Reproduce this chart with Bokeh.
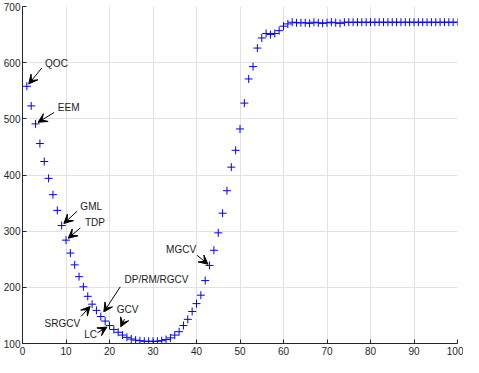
from bokeh.plotting import figure
from bokeh.models import Range1d, Arrow, VeeHead, ColumnDataSource, FixedTicker
from bokeh.core.properties import value
from bokeh.embed import file_html
from bokeh.resources import INLINE
import math

# ---- data ----
x_vals = list(range(1, 101))
y_vals = [558, 523, 491, 456, 424, 394, 365, 337, 310, 284,
          261, 240, 219, 201, 184, 170, 159, 148, 140, 132,
          125, 120, 115, 111, 108, 106, 105, 104, 104, 104,
          104, 105, 107, 110, 115, 121, 132, 143, 157, 171,
          186, 212, 239, 266, 297, 332, 372, 414, 444, 482,
          528, 571, 593, 626, 644, 652, 650, 652, 657, 665,
          669, 672, 671, 671, 671, 670, 672, 671, 670, 671,
          672, 671, 670, 672, 672, 672, 672, 672, 672, 672,
          672, 672, 672, 672, 672, 672, 672, 672, 672, 672,
          672, 672, 672, 672, 672, 672, 672, 672, 672, 672]
x_ticks = [0, 10, 20, 30, 40, 50, 60, 70, 80, 90, 100]
y_ticks = [100, 200, 300, 400, 500, 600, 700]

ann_labels = ["QOC", "EEM", "GML", "TDP", "SRGCV", "LC", "DP/RM/RGCV", "GCV", "MGCV"]
ann_target = [1, 3, 9, 10, 16, 20, 18, 22, 43]

# ---- annotation geometry (positions, not data) ----
ann_start = [(4.44, 590.5), (7.28, 511.4), (12.56, 335.6), (13.30, 305.8),
             (13.46, 148.2), (17.20, 118.9), (22.48, 200.9), (23.45, 143.5),
             (40.14, 257.0)]
ann_gap = [3, 3, 3, 3, 3, 3, 5.5, 6, 2]
ann_text = [(5.19, 599.1), (8.12, 520.7), (13.30, 344.1), (14.36, 315.4),
            (13.24, 134.9), (17.14, 116.7), (23.45, 213.5), (21.65, 160.7),
            (39.91, 266.8)]
ann_align = ["left", "left", "left", "left", "right", "right", "left", "left", "right"]

W, H = 463, 357
p = figure(width=W, height=H, output_backend="svg", toolbar_location=None,
           x_range=Range1d(0, 100), y_range=Range1d(100, 700),
           min_border_left=4, min_border_right=6, min_border_top=6, min_border_bottom=0)
p.outline_line_color = None
p.background_fill_color = "white"
p.border_fill_color = "white"

for ax in (p.xaxis[0], p.yaxis[0]):
    ax.axis_line_color = "#262626"
    ax.major_tick_line_color = "#262626"
    ax.major_tick_in = 4
    ax.major_tick_out = 0
    ax.minor_tick_line_color = None
    ax.major_label_text_font = "Liberation Sans"
    ax.major_label_text_font_size = "10px"
    ax.major_label_text_color = "#262626"
    ax.major_label_standoff = 3
p.yaxis[0].major_label_standoff = 2
p.xaxis[0].ticker = FixedTicker(ticks=x_ticks)
p.yaxis[0].ticker = FixedTicker(ticks=y_ticks)
for g in (p.xgrid[0], p.ygrid[0]):
    g.grid_line_color = "#e2e2e2"
    g.grid_line_width = 1
p.xgrid[0].ticker = FixedTicker(ticks=x_ticks)
p.ygrid[0].ticker = FixedTicker(ticks=y_ticks)

src = ColumnDataSource(dict(x=x_vals, y=y_vals))
p.scatter("x", "y", source=src, marker="cross", size=8, line_color="#0000ff", line_width=1)

# approximate pixel scale of the frame, for arrow gaps
sx = (W - 23 - 6) / 100.0
sy = (H - 6 - 14) / 600.0
for lab, k, (xs, ys), gap, (xt, yt), al in zip(ann_labels, ann_target, ann_start,
                                                ann_gap, ann_text, ann_align):
    xk, yk = x_vals[k - 1], y_vals[k - 1]
    dxp, dyp = (xs - xk) * sx, (ys - yk) * sy
    L = math.hypot(dxp, dyp)
    xe = xk + dxp / L * gap / sx
    ye = yk + dyp / L * gap / sy
    p.add_layout(Arrow(end=VeeHead(size=9, fill_color="black", line_color="black", line_width=1),
                       x_start=xs, y_start=ys, x_end=xe, y_end=ye,
                       line_color="black", line_width=1))
    p.text(x=[xt], y=[yt], text=[lab], text_align=al, text_baseline="middle",
           text_font=value("Liberation Sans"), text_font_size="10px", text_color="#1a1a1a")

open("out.html", "w").write(file_html(p, INLINE))
